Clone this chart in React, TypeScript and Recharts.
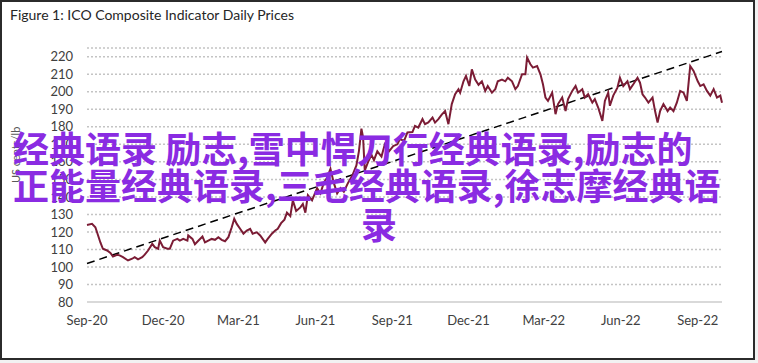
import React from 'react';
import { LineChart, Line, XAxis, YAxis, CartesianGrid, ReferenceLine } from 'recharts';

// quarter ticks, in days since 1 Sep 2020
const tickDays = [0, 91, 181, 273, 365, 456, 546, 638, 730];
const tickLabels = ['Sep-20', 'Dec-20', 'Mar-21', 'Jun-21', 'Sep-21', 'Dec-21', 'Mar-22', 'Jun-22', 'Sep-22'];
const yTicks = [80, 90, 100, 110, 120, 130, 140, 150, 160, 170, 180, 190, 200, 210, 220];

// ICO composite, US cents/lb
const priceDays = [
  0, 6, 10, 12, 16, 19, 24, 28, 31, 36, 39, 43, 49, 54, 57, 61, 66, 69, 73, 78,
  81, 85, 87, 91, 96, 99, 103, 108, 111, 115, 120, 121, 126, 129, 133, 138, 141, 145, 149, 153,
  157, 161, 165, 169, 173, 176, 179, 183, 187, 191, 195, 198, 203, 207, 213, 216, 221, 225, 228, 232,
  236, 239, 243, 246, 250, 255, 258, 261, 264, 269, 275, 279, 283, 287, 291, 295, 299, 303, 307, 312,
  317, 322, 325, 328, 330, 332, 336, 340, 343, 347, 352, 356, 361, 366, 371, 374, 379, 383, 389, 392,
  396, 401, 404, 408, 413, 416, 420, 424, 428, 432, 436, 440, 444, 446, 450, 453, 457, 460, 464, 468,
  472, 476, 479, 484, 488, 491, 496, 500, 503, 508, 512, 515, 520, 524, 526, 530, 533, 538, 542, 545,
  548, 551, 556, 560, 563, 568, 572, 575, 580, 584, 587, 592, 595, 599, 604, 607, 611, 616, 619, 623,
  625, 629, 634, 637, 641, 646, 649, 653, 658, 661, 664, 667, 671, 676, 679, 682, 685, 689, 694, 697,
  701, 705, 709, 713, 717, 721, 725, 730, 733, 737, 741, 745, 749, 753, 757, 759,
];
const prices = [
  124, 124.6, 122.7, 119.8, 114, 110.4, 109.4, 108, 106, 107, 106.6, 105.6, 103.7, 104.7, 105.6, 104.3, 105.6, 107, 109.4, 113.2,
  111.3, 110.4, 115.1, 111.3, 110.4, 110.4, 115, 116, 115, 116, 115, 118, 116, 113, 115, 117.4, 114, 115, 116, 115.5,
  117, 115.5, 114.7, 117, 122.7, 127.5, 124.6, 121.8, 119, 120.8, 121.8, 119, 119.8, 118, 114, 116, 119, 120.8, 121.8, 125,
  127, 131, 129, 138, 132, 134, 136, 131, 141, 138, 145, 142, 148, 151, 156, 148, 142, 145, 143, 148,
  152, 158, 166, 179, 174, 155, 160, 164, 161, 166, 163, 170, 166, 169, 170, 173, 172, 176.8, 177, 180.6,
  179.6, 184.4, 181.5, 182.5, 185.3, 182.4, 184.4, 187, 189, 181.5, 193, 198.6, 201.5, 199.5, 206, 209, 203.3, 212.8, 207, 204,
  206, 200.5, 203.3, 199.5, 201.5, 206, 207, 206, 208, 206, 201.5, 203.3, 210, 210, 219.5, 215.7, 213.8, 214.7, 210, 204.3,
  196.7, 194.8, 199.5, 187.2, 193, 196.7, 189, 195.8, 200.5, 203.3, 199.5, 201.5, 196.7, 198.6, 193.8, 195.8, 191, 183.4, 194.8, 199.5,
  192, 197.8, 202.4, 208, 203.3, 206, 201.5, 204.3, 208, 205.2, 198.6, 196.7, 193.8, 196.7, 189, 182.4, 189, 193, 189, 191,
  189, 193.8, 200.5, 199.5, 194.8, 214.7, 211.9, 206, 203.3, 204.3, 200.5, 197.8, 201.5, 196.7, 197.8, 193.8,
];
const trendFrom = 102;
const trendTo = 223;

const data = priceDays.map((day, i) => ({ day, price: prices[i] }));

const tickStyle = { fill: '#404040', fontSize: 13, fontFamily: 'Lato' };
const markText = {
  position: 'absolute' as const,
  whiteSpace: 'nowrap' as const,
  fontFamily: '"Noto Sans CJK SC"',
  fontWeight: 700,
  fontSize: 36,
  lineHeight: '36px',
  color: '#8a2be2',
};

export default function App() {
  return (
    <div style={{ position: 'absolute', left: 0, top: 0, width: 758, height: 363, background: '#f2f2f2', overflow: 'hidden' }}>
      <div style={{ position: 'absolute', left: 0, top: 0, width: 751, height: 356, border: '2px solid #2b2b2b', background: '#fff' }} />
      <div style={{ position: 'absolute', left: 10, top: 6, fontFamily: 'Lato', fontSize: 14, color: '#262626' }}>
        Figure 1: ICO Composite Indicator Daily Prices
      </div>
      <div style={{ position: 'absolute', left: 0, top: 0 }}>
        <LineChart width={758} height={363} data={data} margin={{ top: 48, right: 36, bottom: 31, left: 27 }}>
          <CartesianGrid vertical={false} stroke="#c4c4c4" strokeDasharray="2 2" strokeWidth={1.5} />
          <XAxis
            dataKey="day"
            type="number"
            domain={[0, 759]}
            ticks={tickDays}
            tickFormatter={(v: number) => tickLabels[tickDays.indexOf(v)]}
            tick={tickStyle}
            tickLine={false}
            tickSize={0}
            tickMargin={14}
            axisLine={{ stroke: '#d9d9d9', strokeWidth: 2 }}
            height={30}
            interval={0}
          />
          <YAxis
            type="number"
            domain={[80, 225]}
            ticks={yTicks}
            tick={tickStyle}
            tickLine={false}
            tickSize={0}
            tickMargin={14}
            axisLine={false}
            width={60}
            interval={0}
          />
          <ReferenceLine
            segment={[{ x: 0, y: trendFrom }, { x: 759, y: trendTo }]}
            stroke="#000"
            strokeWidth={1.5}
            strokeDasharray="8 5"
            ifOverflow="visible"
          />
          <Line dataKey="price" type="linear" stroke="#7b1c35" strokeWidth={2} dot={false} isAnimationActive={false} />
        </LineChart>
      </div>
      <div
        style={{
          position: 'absolute',
          left: 9,
          top: 155,
          transform: 'rotate(-90deg)',
          transformOrigin: 'left top',
          fontFamily: 'Lato',
          fontSize: 11,
          color: '#595959',
          whiteSpace: 'nowrap',
        }}
      >
        <span style={{ position: 'relative', left: -28 }}>US cents/lb</span>
      </div>
      <div style={{ ...markText, left: 13, top: 129 }}>经典语录 励志,雪中悍刀行经典语录,励志的</div>
      <div style={{ ...markText, left: 13, top: 166 }}>正能量经典语录,三毛经典语录,徐志摩经典语</div>
      <div style={{ ...markText, left: 361, top: 205 }}>录</div>
    </div>
  );
}
